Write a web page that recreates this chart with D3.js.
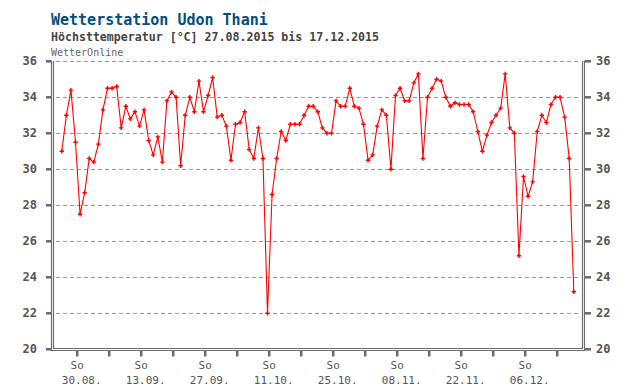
<!DOCTYPE html>
<html>
<head>
<meta charset="utf-8">
<script src="https://cdn.jsdelivr.net/npm/d3@7"></script>
<style>
  html, body { margin: 0; padding: 0; background: #fff; }
  svg { display: block; font-family: "DejaVu Sans Mono", monospace; }
</style>
</head>
<body>
<div id="chart"></div>
<script>
// Tageshöchstwerte Udon Thani, 27.08.2015 - 17.12.2015 (one value per day)
const startDate = new Date(Date.UTC(2015, 7, 27));
const endDate = new Date(Date.UTC(2015, 11, 17));
const maxTemps = [
    31.0, 33.0, 34.4, 31.5, 27.5, 28.7, 30.6, 30.4, 31.4, 33.3,
    34.5, 34.5, 34.6, 32.3, 33.5, 32.8, 33.2, 32.4, 33.3, 31.6,
    30.8, 31.8, 30.4, 33.8, 34.3, 34.0, 30.2, 33.0, 34.0, 33.2,
    34.9, 33.2, 34.1, 35.1, 32.9, 33.0, 32.4, 30.5, 32.5, 32.6,
    33.2, 31.1, 30.6, 32.3, 30.6, 22.0, 28.6, 30.6, 32.1, 31.6,
    32.5, 32.5, 32.5, 33.0, 33.5, 33.5, 33.2, 32.3, 32.0, 32.0,
    33.8, 33.5, 33.5, 34.5, 33.5, 33.4, 32.5, 30.5, 30.8, 32.4,
    33.3, 33.0, 30.0, 34.1, 34.5, 33.8, 33.8, 34.8, 35.3, 30.6,
    34.0, 34.5, 35.0, 34.9, 34.0, 33.5, 33.7, 33.6, 33.6, 33.6,
    33.2, 32.1, 31.0, 31.9, 32.6, 33.0, 33.4, 35.3, 32.3, 32.0,
    25.2, 29.6, 28.5, 29.3, 32.1, 33.0, 32.6, 33.6, 34.0, 34.0,
    32.9, 30.6, 23.2
];
const yTicks = [20, 22, 24, 26, 28, 30, 32, 34, 36];
const title = 'Wetterstation Udon Thani';
const subtitle = 'Höchsttemperatur [°C] 27.08.2015 bis 17.12.2015';
const source = 'WetterOnline';

const width = 640, height = 390;
const frameColor = '#6e6e6e';
const labelColor = '#555';

const svg = d3.select('#chart').append('svg')
    .attr('width', width)
    .attr('height', height);

const data = maxTemps.map((t, i) => ({date: d3.utcDay.offset(startDate, i), value: t}));

const x = d3.scaleUtc()
    .domain([startDate, endDate])
    .range([61.8, 573.8]);

const y = d3.scaleLinear()
    .domain([20, 36])
    .range([349.3, 61.3]);

// headings
svg.append('text')
    .attr('x', 51).attr('y', 25)
    .attr('font-size', '15px').attr('font-weight', 'bold')
    .attr('fill', '#00507d')
    .text(title);
svg.append('text')
    .attr('x', 51).attr('y', 41)
    .attr('font-size', '11.6px').attr('font-weight', 'bold')
    .attr('fill', '#444')
    .text(subtitle);
svg.append('text')
    .attr('x', 51).attr('y', 56)
    .attr('font-size', '10px')
    .attr('fill', '#666')
    .text(source);

// dashed grid
svg.append('g')
    .selectAll('line')
    .data(yTicks.filter(d => d > 20))
    .enter()
    .append('line')
    .attr('x1', 56).attr('x2', 580)
    .attr('y1', d => Math.round(y(d)) + 0.5)
    .attr('y2', d => Math.round(y(d)) + 0.5)
    .attr('stroke', '#9a9a9a')
    .attr('stroke-dasharray', '4,3');

// double frame, open at the top
const left = 52, right = 583, bottom = 349;
svg.append('path')
    .attr('d', `M${left - 0.5},61V${bottom + 1.5}H${right + 1.5}V61`)
    .attr('fill', 'none').attr('stroke', frameColor).attr('stroke-width', 1.2);
svg.append('path')
    .attr('d', `M${left + 1.5},61V${bottom - 0.5}H${right - 0.5}V61`)
    .attr('fill', 'none').attr('stroke', frameColor).attr('stroke-width', 1.2);

// y ticks and labels on both sides
const yAxis = svg.append('g');
yTicks.forEach(t => {
    const yy = y(t);
    yAxis.append('line')
        .attr('x1', 46).attr('x2', left - 0.5)
        .attr('y1', yy).attr('y2', yy)
        .attr('stroke', frameColor).attr('stroke-width', 2.6);
    yAxis.append('line')
        .attr('x1', right + 1.5).attr('x2', 591)
        .attr('y1', yy).attr('y2', yy)
        .attr('stroke', frameColor).attr('stroke-width', 2.6);
    yAxis.append('text')
        .attr('x', 37).attr('y', yy + 4)
        .attr('text-anchor', 'end')
        .attr('font-size', '12px').attr('font-weight', 'bold')
        .attr('fill', labelColor)
        .text(t);
    yAxis.append('text')
        .attr('x', 596).attr('y', yy + 4)
        .attr('font-size', '12px').attr('font-weight', 'bold')
        .attr('fill', labelColor)
        .text(t);
});

// x ticks: every Sunday, labels every second Sunday
const sundays = d3.utcSunday.range(startDate, d3.utcDay.offset(endDate, 1));
const fmt = d3.utcFormat('%d.%m.');
const xAxis = svg.append('g');
sundays.forEach((s, i) => {
    const xx = x(d3.utcHour.offset(s, 9));
    xAxis.append('line')
        .attr('x1', xx).attr('x2', xx)
        .attr('y1', bottom + 2).attr('y2', 356.5)
        .attr('stroke', frameColor).attr('stroke-width', 2.6);
    if (i % 2 === 0) {
        xAxis.append('text')
            .attr('x', xx).attr('y', 368.5)
            .attr('text-anchor', 'middle')
            .attr('font-size', '11px')
            .attr('fill', labelColor)
            .text('So');
        xAxis.append('text')
            .attr('x', xx + 4.5).attr('y', 383.5)
            .attr('text-anchor', 'middle')
            .attr('font-size', '11px')
            .attr('fill', labelColor)
            .text(fmt(s));
    }
});

// temperature line
const line = d3.line()
    .x(d => x(d.date))
    .y(d => y(d.value));

svg.append('path')
    .datum(data)
    .attr('d', line)
    .attr('fill', 'none')
    .attr('stroke', '#ff0000')
    .attr('stroke-width', 1.1);

// plus markers
svg.append('g')
    .selectAll('path')
    .data(data)
    .enter()
    .append('path')
    .attr('d', d => {
        const px = x(d.date), py = y(d.value);
        return `M${px - 2.2},${py}H${px + 2.2}M${px},${py - 2.2}V${py + 2.2}`;
    })
    .attr('stroke', '#ff0000')
    .attr('stroke-width', 1.4);
</script>
</body>
</html>
